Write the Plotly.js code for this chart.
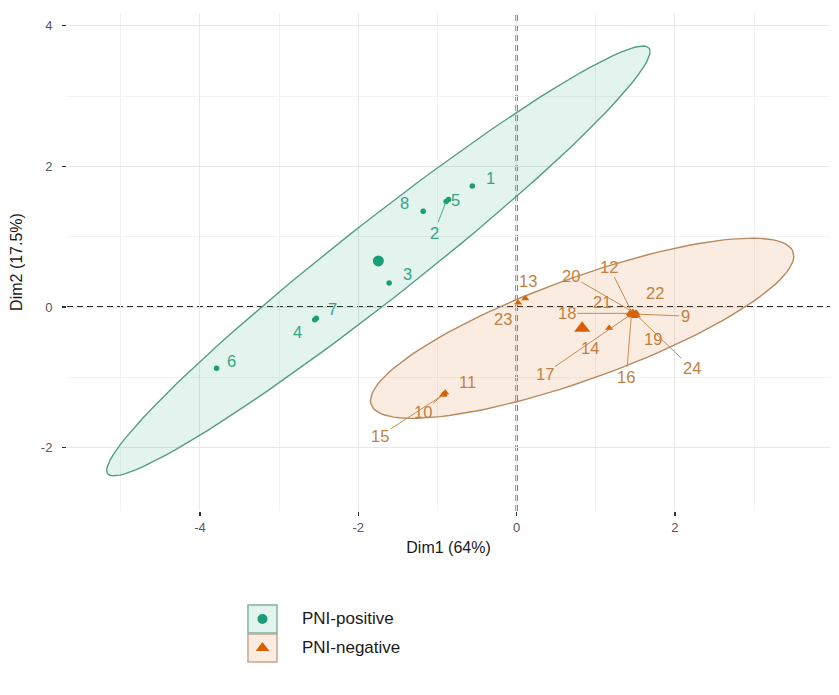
<!DOCTYPE html>
<html>
<head>
<meta charset="utf-8">
<script src="https://cdn.plot.ly/plotly-3.0.1.min.js"></script>
<style>
  html, body { margin: 0; padding: 0; background: #fff; }
  #chart { width: 839px; height: 695px; }
</style>
</head>
<body>
<div id="chart"></div>
<script>
// groups
const groupNames = ['PNI-positive', 'PNI-negative'];

// PNI-positive individuals (Dim1, Dim2)
const posIds = [1, 2, 3, 4, 5, 6, 7, 8];
const posX = [-0.56, -0.89, -1.61, -2.55, -0.86, -3.79, -2.53, -1.18];
const posY = [1.72, 1.50, 0.34, -0.18, 1.53, -0.87, -0.16, 1.36];

// PNI-negative individuals (Dim1, Dim2)
const negIds = [9, 10, 11, 12, 13, 14, 15, 16, 17, 18, 19, 20, 21, 22, 23, 24];
const negX = [1.50, -0.92, -0.90, 1.46, 0.11, 1.17, -0.93, 1.45, 1.44, 1.43, 1.49, 1.47, 1.44, 1.51, 0.02, 1.52];
const negY = [-0.10, -1.24, -1.22, -0.08, 0.12, -0.30, -1.25, -0.12, -0.11, -0.09, -0.13, -0.07, -0.10, -0.08, 0.06, -0.12];

// axis ticks
const xTicks = [-4, -2, 0, 2];
const xTickText = ['-4', '-2', '0', '2'];
const yTicks = [-2, 0, 2, 4];
const yTickText = ['-2', '0', '2', '4'];

// repelled label offsets in px: [dx, dy, draw segment]
const labelOffsets = {
  1: [18, -8, 0], 2: [-12, 31, 1], 3: [18, -9, 0], 4: [-17, 12, 0],
  5: [7, 1, 0], 6: [15, -7, 0], 7: [16, -9, 0], 8: [-19, -8, 0],
  9: [50, 2, 1], 10: [-21, 18, 1], 11: [22, -11, 0], 12: [-23, -46, 1],
  13: [3, -18, 0], 14: [-19, 20, 0], 15: [-63, 41, 1], 16: [-5, 62, 1],
  17: [-86, 59, 1], 18: [-63, 0, 1], 19: [18, 23, 0], 20: [-62, -36, 1],
  21: [-29, -12, 0], 22: [19, -20, 0], 23: [-15, 16, 0], 24: [55, 53, 1]
};

const teal = '#1B9E77';
const orange = '#D95F02';
const tealText = '#34a586';
const orangeText = '#c47f42';
const FONT = 'Liberation Sans, Arial, sans-serif';

function mean(a) { return a.reduce((s, v) => s + v, 0) / a.length; }

// normal-theory 95% ellipse, as ggplot2::stat_ellipse(type = "norm")
function ellipse(xs, ys, level) {
  const n = xs.length;
  const mx = mean(xs), my = mean(ys);
  let a = 0, b = 0, c = 0;
  for (let i = 0; i < n; i++) {
    a += (xs[i] - mx) * (xs[i] - mx);
    b += (xs[i] - mx) * (ys[i] - my);
    c += (ys[i] - my) * (ys[i] - my);
  }
  a /= (n - 1); b /= (n - 1); c /= (n - 1);
  const df2 = n - 1;
  const fq = (df2 / 2) * (Math.pow(1 - level, -2 / df2) - 1); // qf(level, 2, n-1)
  const r = Math.sqrt(2 * fq);
  const r11 = Math.sqrt(a), r12 = b / r11, r22 = Math.sqrt(c - r12 * r12);
  const ex = [], ey = [];
  for (let k = 0; k <= 120; k++) {
    const t = 2 * Math.PI * k / 120;
    const u = Math.cos(t), v = Math.sin(t);
    ex.push(mx + r * u * r11);
    ey.push(my + r * (u * r12 + v * r22));
  }
  return { x: ex, y: ey };
}

const elPos = ellipse(posX, posY, 0.95);
const elNeg = ellipse(negX, negY, 0.95);

const traces = [
  { type: 'scatter', mode: 'lines', x: elPos.x, y: elPos.y, fill: 'toself',
    fillcolor: 'rgba(27,158,119,0.12)', line: { color: '#559c89', width: 1.4 }, hoverinfo: 'skip' },
  { type: 'scatter', mode: 'lines', x: elNeg.x, y: elNeg.y, fill: 'toself',
    fillcolor: 'rgba(217,95,2,0.12)', line: { color: '#b8895f', width: 1.4 }, hoverinfo: 'skip' },
  { type: 'scatter', mode: 'markers', name: groupNames[0], x: posX, y: posY, text: posIds,
    marker: { symbol: 'circle', size: 5.5, color: teal } },
  { type: 'scatter', mode: 'markers', name: groupNames[1], x: negX, y: negY, text: negIds,
    marker: { symbol: 'triangle-up', size: 7, color: orange } },
  // group means
  { type: 'scatter', mode: 'markers', x: [mean(posX)], y: [mean(posY)],
    marker: { symbol: 'circle', size: 11, color: teal } },
  { type: 'scatter', mode: 'markers', x: [mean(negX)], y: [mean(negY)],
    marker: { symbol: 'triangle-up', size: 14, color: orange } },
  // legend keys
  { type: 'scatter', mode: 'markers', xaxis: 'x2', yaxis: 'y2', x: [22.5], y: [46],
    marker: { symbol: 'circle', size: 10, color: teal }, hoverinfo: 'skip' },
  { type: 'scatter', mode: 'markers', xaxis: 'x2', yaxis: 'y2', x: [22.5], y: [17],
    marker: { symbol: 'triangle-up', size: 12, color: orange }, hoverinfo: 'skip' }
];

const annotations = [];
function addLabels(ids, xs, ys, color) {
  ids.forEach((id, i) => {
    const o = labelOffsets[id];
    annotations.push({
      x: xs[i], y: ys[i], xref: 'x', yref: 'y', text: String(id),
      showarrow: true, arrowhead: 0, arrowwidth: 0.9, standoff: 0, startstandoff: 0,
      arrowcolor: o[2] ? color : 'rgba(0,0,0,0)', ax: o[0], ay: o[1],
      font: { family: FONT, size: 16.5, color: color }
    });
  });
}
addLabels(posIds, posX, posY, tealText);
addLabels(negIds, negX, negY, orangeText);

// legend texts
groupNames.forEach((g, i) => {
  annotations.push({
    x: 60, y: i === 0 ? 46 : 17, xref: 'x2', yref: 'y2', text: g, showarrow: false,
    xanchor: 'left', yanchor: 'middle',
    font: { family: FONT, size: 17, color: '#1a1a1a' }
  });
});

const dashLine = { color: '#2b2b2b', width: 2, dash: '6px,4px' };
const shapes = [
  { type: 'line', xref: 'x', yref: 'y domain', x0: 0, x1: 0, y0: 0, y1: 1, layer: 'below', line: dashLine },
  { type: 'line', xref: 'x domain', yref: 'y', x0: 0, x1: 1, y0: 0, y1: 0, layer: 'below', line: dashLine },
  // legend key boxes
  { type: 'rect', xref: 'x2', yref: 'y2', x0: 8, x1: 37, y0: 32, y1: 60, layer: 'below',
    fillcolor: 'rgba(27,158,119,0.12)', line: { color: '#7fb3a5', width: 1.5 } },
  { type: 'rect', xref: 'x2', yref: 'y2', x0: 8, x1: 37, y0: 3, y1: 31, layer: 'below',
    fillcolor: 'rgba(217,95,2,0.12)', line: { color: '#c6a88e', width: 1.5 } }
];

const tickFont = { family: FONT, size: 13, color: '#555' };
const titleFont = { family: FONT, size: 16, color: '#1a1a1a' };

const layout = {
  width: 839, height: 695,
  margin: { l: 67, r: 9, t: 13, b: 30 },
  paper_bgcolor: '#fff', plot_bgcolor: '#fff',
  showlegend: false,
  font: { family: FONT },
  xaxis: {
    range: [-5.68, 3.96], domain: [0, 1], anchor: 'y',
    tickmode: 'array', tickvals: xTicks, ticktext: xTickText,
    ticks: 'outside', ticklen: 4, tickwidth: 1.3, tickcolor: '#333', tickfont: tickFont,
    showgrid: true, gridcolor: '#e8e8e8', gridwidth: 1, zeroline: false, showline: false,
    minor: { tick0: 0, dtick: 1, showgrid: true, gridcolor: '#f2f2f2', ticks: '' },
    title: { text: 'Dim1 (64%)', font: titleFont, standoff: 8 }
  },
  yaxis: {
    range: [-2.9, 4.18], domain: [0.2362, 1], anchor: 'x',
    tickmode: 'array', tickvals: yTicks, ticktext: yTickText,
    ticks: 'outside', ticklen: 4, tickwidth: 1.3, tickcolor: '#333', tickfont: tickFont,
    ticklabelstandoff: 7,
    showgrid: true, gridcolor: '#e8e8e8', gridwidth: 1, zeroline: false, showline: false,
    minor: { tick0: 0, dtick: 1, showgrid: true, gridcolor: '#f2f2f2', ticks: '' },
    title: { text: 'Dim2 (17.5%)', font: titleFont, standoff: 14 }
  },
  xaxis2: { domain: [0.2267, 0.5544], range: [0, 250], anchor: 'y2', visible: false, fixedrange: true },
  yaxis2: { domain: [0, 0.1028], range: [0, 67], anchor: 'x2', visible: false, fixedrange: true },
  shapes: shapes,
  annotations: annotations
};

Plotly.newPlot('chart', traces, layout, { displayModeBar: false, staticPlot: true });
</script>
</body>
</html>
